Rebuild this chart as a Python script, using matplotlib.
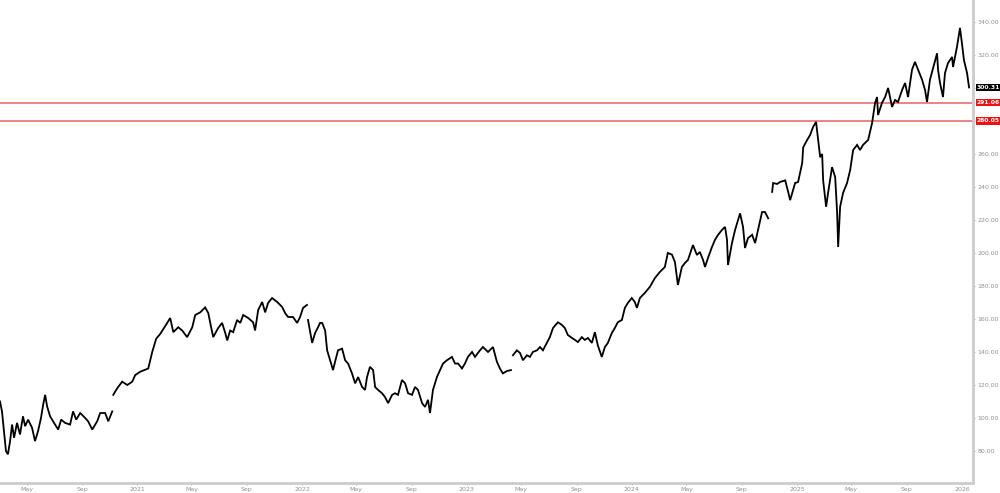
import matplotlib
matplotlib.use("Agg")
import matplotlib.pyplot as plt
import matplotlib.transforms as mtransforms
import numpy as np
import pandas as pd

# time in decimal years, price values (None = gap between contract segments)
t_years = [
    2020.170, 2020.182, 2020.194, 2020.206, 2020.218, 2020.231, 2020.243, 2020.255, 2020.273, 2020.291,
    2020.309, 2020.322, 2020.340, 2020.364, 2020.382, 2020.400, 2020.418, 2020.431, 2020.443, 2020.455,
    2020.473, 2020.497, 2020.522, 2020.540, 2020.564, 2020.594, 2020.612, 2020.631, 2020.655, 2020.685,
    2020.703, 2020.728, 2020.758, 2020.776, 2020.806, 2020.825, 2020.849, 2020.852, 2020.855, 2020.879,
    2020.909, 2020.940, 2020.970, 2020.988, 2021.018, 2021.067, 2021.091, 2021.115, 2021.140, 2021.182,
    2021.200, 2021.219, 2021.249, 2021.273, 2021.303, 2021.334, 2021.352, 2021.382, 2021.412, 2021.431,
    2021.443, 2021.461, 2021.491, 2021.515, 2021.534, 2021.546, 2021.564, 2021.582, 2021.606, 2021.625,
    2021.643, 2021.673, 2021.703, 2021.715, 2021.734, 2021.758, 2021.776, 2021.794, 2021.818, 2021.849,
    2021.879, 2021.897, 2021.915, 2021.945, 2021.970, 2021.988, 2022.006, 2022.030, 2022.033, 2022.036,
    2022.061, 2022.079, 2022.097, 2022.109, 2022.122, 2022.140, 2022.152, 2022.170, 2022.188, 2022.200,
    2022.218, 2022.243, 2022.261, 2022.279, 2022.303, 2022.322, 2022.340, 2022.364, 2022.382, 2022.394,
    2022.412, 2022.431, 2022.443, 2022.461, 2022.485, 2022.503, 2022.522, 2022.546, 2022.564, 2022.582,
    2022.606, 2022.625, 2022.643, 2022.667, 2022.685, 2022.703, 2022.728, 2022.746, 2022.764, 2022.776,
    2022.794, 2022.818, 2022.837, 2022.855, 2022.879, 2022.909, 2022.928, 2022.946, 2022.970, 2022.988,
    2023.006, 2023.031, 2023.049, 2023.079, 2023.097, 2023.128, 2023.158, 2023.182, 2023.200, 2023.218,
    2023.243, 2023.267, 2023.273, 2023.279, 2023.303, 2023.322, 2023.340, 2023.364, 2023.382, 2023.400,
    2023.425, 2023.443, 2023.461, 2023.485, 2023.503, 2023.522, 2023.552, 2023.576, 2023.594, 2023.612,
    2023.637, 2023.655, 2023.673, 2023.697, 2023.715, 2023.734, 2023.758, 2023.776, 2023.794, 2023.818,
    2023.837, 2023.855, 2023.879, 2023.897, 2023.915, 2023.940, 2023.958, 2023.976, 2024.000, 2024.018,
    2024.031, 2024.049, 2024.079, 2024.109, 2024.140, 2024.170, 2024.200, 2024.218, 2024.243, 2024.261,
    2024.279, 2024.303, 2024.322, 2024.340, 2024.364, 2024.370, 2024.394, 2024.412, 2024.431, 2024.443,
    2024.461, 2024.485, 2024.503, 2024.522, 2024.546, 2024.564, 2024.576, 2024.582, 2024.606, 2024.625,
    2024.655, 2024.673, 2024.685, 2024.703, 2024.728, 2024.746, 2024.764, 2024.788, 2024.806, 2024.825,
    2024.837, 2024.849, 2024.855, 2024.879, 2024.897, 2024.928, 2024.946, 2024.958, 2024.988, 2025.006,
    2025.031, 2025.037, 2025.061, 2025.079, 2025.097, 2025.115, 2025.128, 2025.140, 2025.152, 2025.158,
    2025.176, 2025.188, 2025.212, 2025.231, 2025.243, 2025.249, 2025.261, 2025.279, 2025.303, 2025.322,
    2025.340, 2025.364, 2025.382, 2025.400, 2025.431, 2025.455, 2025.473, 2025.485, 2025.491, 2025.515,
    2025.534, 2025.552, 2025.576, 2025.594, 2025.612, 2025.637, 2025.655, 2025.673, 2025.697, 2025.715,
    2025.734, 2025.758, 2025.776, 2025.788, 2025.806, 2025.825, 2025.849, 2025.855, 2025.867, 2025.885,
    2025.897, 2025.915, 2025.940, 2025.946, 2025.970, 2025.988, 2026.000, 2026.012, 2026.031, 2026.043,
]
price = [
    110, 104, 92, 80, 78, 86, 96, 88, 97, 90,
    101, 95, 99, 94, 86, 92, 100, 108, 114, 107,
    101, 97, 93, 99, 97, 96, 104, 99, 103, 100,
    98, 93, 98, 103, 103, 98, 104, None, 114, 118,
    122, 120, 122, 126, 128, 130, 140, 148, 151, 157.6,
    160.6, 152, 155, 153, 149, 155, 162.4, 164, 167, 163.6,
    157.6, 149, 154.5, 157.6, 151.5, 147, 153, 152, 159.4, 157.6,
    162.4, 160.6, 158, 153, 165.5, 170.3, 164, 169.7, 172.7, 170.3,
    167.3, 163.6, 161.2, 161.2, 157.6, 161.2, 166.7, 168.5, None, 159.4,
    145.5, 151.5, 155, 157.6, 157.6, 153, 141, 135, 129, 134,
    141, 142, 135, 133, 127, 121, 124.8, 118.8, 117, 124.8,
    131, 129, 118.8, 117, 115, 112.7, 109, 114, 115, 114,
    123, 121, 115, 114, 118.8, 117, 109, 106.7, 111, 103,
    117, 124.8, 129, 133, 135, 137, 133, 133, 130, 133,
    137, 140, 137, 141, 143, 140, 143, 134, 130, 127,
    128.5, 129, None, 138, 141, 139.4, 135, 138, 137, 140,
    141, 143, 141, 145.5, 149, 154.5, 158, 156.4, 154.5, 150.3,
    148.5, 147.3, 146, 149, 147.3, 148.5, 145.5, 152, 144, 137,
    143, 145.5, 151.5, 154.5, 158, 159.4, 166.7, 169.7, 172.7, 170.3,
    166.7, 172.7, 175.8, 179.4, 184.8, 188.5, 191.5, 200, 199, 194.5,
    180.6, 191.5, 194, 195.8, 203, 204.8, 198.8, 200.6, 195.8, 191.5,
    197, 203.6, 207.9, 211, 214, 215.8, 208, 192.7, 206, 214,
    224, 215.8, 203, 209, 211, 206, 214, 224.8, 224.8, 221,
    None, 237, 242.4, 241.8, 243, 244, 237, 232, 242.4, 243,
    254.5, 264, 268.5, 271.5, 276.4, 279.4, 268.5, 258, 260, 244,
    228, 236.4, 252, 246, 224, 203.6, 228, 236.4, 242.4, 250.3,
    262.4, 265.5, 262.4, 265.5, 268.5, 278.8, 291, 294.5, 283.6, 291,
    294.5, 300, 288.5, 292.7, 291.5, 298.8, 303, 294.5, 311, 315.8,
    311, 305, 298.8, 291.5, 305, 312, 321, 311, 303, 294.5,
    309, 315, 318.8, 312.7, 325, 336.4, 327, 316.9, 309, 300.31,
]

last_price = 300.31
levels = [291.06, 280.05]
y_ticks = [80, 100, 120, 140, 160, 180, 200, 220, 240, 260, 280, 300, 320, 340]


def to_date(ty):
    y = int(np.floor(ty))
    start = pd.Timestamp(year=y, month=1, day=1)
    end = pd.Timestamp(year=y + 1, month=1, day=1)
    return start + (end - start) * (ty - y)


dates = [to_date(t) for t in t_years]
vals = np.array([np.nan if v is None else v for v in price], dtype=float)

fig = plt.figure(figsize=(10, 4.93), dpi=100)
ax = fig.add_axes([0.0, 0.0203, 0.973, 0.9797])

ax.plot(dates, vals, color="black", lw=1.3, solid_joinstyle="miter")

for lv in levels:
    ax.axhline(lv, color="#f07878", lw=1.3, zorder=1)

ax.set_xlim(to_date(2020.170), to_date(2026.067))
ax.set_ylim(60.6, 353.3)

# x ticks: May, Sep, Jan(year)
xt, xl = [], []
for y in range(2020, 2027):
    for m in (1, 5, 9):
        d = pd.Timestamp(year=y, month=m, day=1)
        if to_date(2020.170) <= d <= to_date(2026.067):
            xt.append(d)
            xl.append(str(y) if m == 1 else ("May" if m == 5 else "Sep"))
ax.set_xticks(xt)
ax.set_xticklabels(xl)

ax.yaxis.tick_right()
ax.set_yticks(y_ticks)
ax.set_yticklabels([f"{v:.2f}" for v in y_ticks])

ax.tick_params(axis="both", colors="#b0b0b0", labelcolor="#909090", labelsize=4.5, length=1.5, width=0.8, pad=1.5)

for s in ("top", "left"):
    ax.spines[s].set_visible(False)
for s in ("right", "bottom"):
    ax.spines[s].set_color("#cccccc")
    ax.spines[s].set_linewidth(2)

trans = mtransforms.blended_transform_factory(ax.transAxes, ax.transData)
ax.text(1.004, last_price, f"{last_price:.2f}", transform=trans, ha="left", va="center",
        fontsize=4.3, color="white", fontweight="bold",
        bbox=dict(boxstyle="square,pad=0.2", fc="black", ec="none"), clip_on=False)
for lv in levels:
    ax.text(1.004, lv, f"{lv:.2f}", transform=trans, ha="left", va="center",
            fontsize=4.3, color="white", fontweight="bold",
            bbox=dict(boxstyle="square,pad=0.2", fc="#ee1111", ec="none"), clip_on=False)

fig.savefig("out.png", dpi=100, facecolor="white")
